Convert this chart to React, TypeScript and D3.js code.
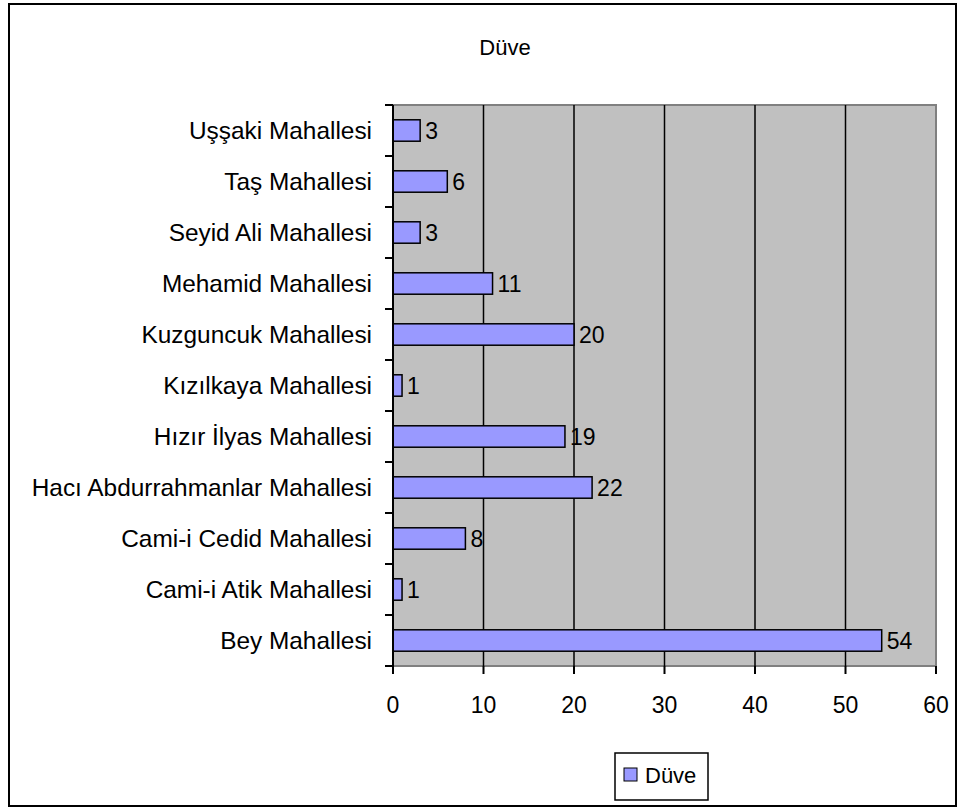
import React, { useEffect, useRef } from 'react';
import * as d3 from 'd3';

const categories = [
  'Bey Mahallesi',
  'Cami-i Atik Mahallesi',
  'Cami-i Cedid Mahallesi',
  'Hacı Abdurrahmanlar Mahallesi',
  'Hızır İlyas Mahallesi',
  'Kızılkaya Mahallesi',
  'Kuzguncuk Mahallesi',
  'Mehamid Mahallesi',
  'Seyid Ali Mahallesi',
  'Taş Mahallesi',
  'Uşşaki Mahallesi',
];
const values = [54, 1, 8, 22, 19, 1, 20, 11, 3, 6, 3];
const xTicks = [0, 10, 20, 30, 40, 50, 60];
const seriesName = 'Düve';

const App = () => {
  const svgRef = useRef(null);
  const width = 958;
  const height = 809;
  const font = 'Liberation Sans, Arial, sans-serif';

  useEffect(() => {
    const svg = d3.select(svgRef.current);
    svg.selectAll('*').remove();

    const left = 393, right = 936, top = 105, bottom = 666;

    // outer frame
    svg.append('rect').attr('x', 9).attr('y', 4).attr('width', 947).attr('height', 802)
      .attr('fill', '#fff').attr('stroke', '#000').attr('stroke-width', 2);

    svg.append('text').attr('x', 505).attr('y', 55).attr('text-anchor', 'middle')
      .attr('font-family', font).attr('font-size', 22).text(seriesName);

    const x = d3.scaleLinear([0, 60], [left, right]);
    // top of chart is last category
    const y = d3.scaleBand(categories.slice().reverse(), [top, bottom]);

    svg.append('rect').attr('x', left).attr('y', top).attr('width', right - left).attr('height', bottom - top)
      .attr('fill', '#c0c0c0').attr('stroke', '#808080').attr('stroke-width', 2);

    // gridlines
    svg.append('g').selectAll('line').data(xTicks.slice(1, -1)).join('line')
      .attr('x1', d => x(d)).attr('x2', d => x(d)).attr('y1', top).attr('y2', bottom)
      .attr('stroke', '#000').attr('stroke-width', 1.5);

    // bars
    const bh = y.bandwidth() * 0.42;
    svg.append('g').selectAll('rect').data(values).join('rect')
      .attr('x', x(0)).attr('y', (d, i) => y(categories[i]) + y.bandwidth() / 2 - bh / 2)
      .attr('width', d => x(d) - x(0)).attr('height', bh)
      .attr('fill', '#9999ff').attr('stroke', '#000').attr('stroke-width', 1.5);

    // value labels
    svg.append('g').selectAll('text').data(values).join('text')
      .attr('x', d => x(d) + 5).attr('y', (d, i) => y(categories[i]) + y.bandwidth() / 2 + 8)
      .attr('font-family', font).attr('font-size', 23).text(d => d);

    // y axis
    const yAxis = svg.append('g');
    yAxis.append('line').attr('x1', left).attr('x2', left).attr('y1', top).attr('y2', bottom + 8)
      .attr('stroke', '#000').attr('stroke-width', 2);
    yAxis.selectAll('line.tick').data(d3.range(categories.length + 1)).join('line')
      .attr('class', 'tick')
      .attr('x1', left - 8).attr('x2', left)
      .attr('y1', i => top + i * y.step()).attr('y2', i => top + i * y.step())
      .attr('stroke', '#000').attr('stroke-width', 2);
    yAxis.selectAll('text').data(categories).join('text')
      .attr('x', left - 21).attr('y', d => y(d) + y.bandwidth() / 2 + 8)
      .attr('text-anchor', 'end').attr('font-family', font).attr('font-size', 24.4).text(d => d);

    // x axis
    const xAxis = svg.append('g');
    xAxis.append('line').attr('x1', left).attr('x2', right).attr('y1', bottom).attr('y2', bottom)
      .attr('stroke', '#000').attr('stroke-width', 2);
    xAxis.selectAll('line').data(xTicks).join('line')
      .attr('x1', d => x(d)).attr('x2', d => x(d)).attr('y1', bottom).attr('y2', bottom + 8)
      .attr('stroke', '#000').attr('stroke-width', 2);
    xAxis.selectAll('text').data(xTicks).join('text')
      .attr('x', d => x(d)).attr('y', 713).attr('text-anchor', 'middle')
      .attr('font-family', font).attr('font-size', 23).text(d => d);

    // legend
    const lg = svg.append('g');
    lg.append('rect').attr('x', 615).attr('y', 753).attr('width', 93).attr('height', 47)
      .attr('fill', '#fff').attr('stroke', '#000').attr('stroke-width', 1.5);
    lg.append('rect').attr('x', 624).attr('y', 768).attr('width', 13).attr('height', 13)
      .attr('fill', '#9999ff').attr('stroke', '#000').attr('stroke-width', 1);
    lg.append('text').attr('x', 645).attr('y', 783).attr('font-family', font).attr('font-size', 22)
      .text(seriesName);
  }, []);

  return (
    <svg ref={svgRef} width={width} height={height}
      style={{ position: 'absolute', left: 0, top: 0, display: 'block' }} />
  );
};

export default App;
